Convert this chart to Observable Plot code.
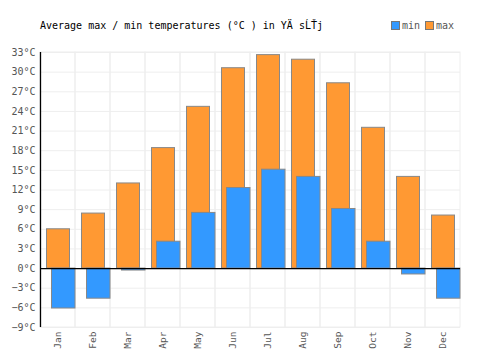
<!DOCTYPE html>
<html>
<head>
<meta charset="utf-8">
<script src="https://cdn.jsdelivr.net/npm/d3@7"></script>
<script src="https://cdn.jsdelivr.net/npm/@observablehq/plot@0.6"></script>
<style>
  html, body { margin: 0; padding: 0; background: #fff; }
  #wrap { position: relative; width: 500px; height: 350px; overflow: hidden; font-family: "DejaVu Sans Mono", monospace; }
  #title { position: absolute; left: 40px; top: 20px; font-size: 10px; color: #000; white-space: pre; }
  #legend { position: absolute; left: 391px; top: 20px; font-size: 10px; color: #555; display: flex; align-items: center; }
  .sw { display: inline-block; width: 7px; height: 7px; border: 1px solid #777; margin-right: 2px; }
  .item { display: flex; align-items: center; margin-right: 5px; }
</style>
</head>
<body>
<div id="wrap">
  <div id="title">Average max / min temperatures (°C ) in YÄ sĹŤj</div>
  <div id="legend"></div>
  <div id="chart"></div>
</div>
<script>
const months = ["Jan","Feb","Mar","Apr","May","Jun","Jul","Aug","Sep","Oct","Nov","Dec"];
const maxTemps = [6.0, 8.4, 13.0, 18.4, 24.7, 30.6, 32.6, 31.9, 28.3, 21.5, 14.0, 8.1];
const minTemps = [-6.1, -4.6, -0.3, 4.1, 8.5, 12.3, 15.1, 14.0, 9.1, 4.1, -0.9, -4.6];
const yTicks = [-9, -6, -3, 0, 3, 6, 9, 12, 15, 18, 21, 24, 27, 30, 33];
const seriesNames = ["min", "max"];
const seriesColors = ["#3399ff", "#ff9933"];

const maxData = months.map((m, i) => ({month: m, value: maxTemps[i]}));
const minData = months.map((m, i) => ({month: m, value: minTemps[i]}));

const fmt = d => (d < 0 ? "\u2212" : "") + Math.abs(d) + "°C";

const chart = Plot.plot({
  width: 500,
  height: 350,
  marginTop: 52,
  marginBottom: 23,
  marginLeft: 40,
  marginRight: 40,
  style: {fontFamily: "DejaVu Sans Mono, monospace", fontSize: "10px", color: "#555", background: "#fff"},
  x: {domain: months, padding: 0, label: null},
  y: {domain: [-9, 33], label: null},
  marks: [
    Plot.gridY(yTicks, {stroke: "#eee", strokeOpacity: 1}),
    Plot.barY(months, {x: d => d, y1: -9, y2: 33, fill: "none", stroke: "#eee", strokeWidth: 1}),
    Plot.barY(maxData, {x: "month", y: "value", fill: seriesColors[1], stroke: "#888", strokeWidth: 1, insetLeft: 6.5, insetRight: 5.5}),
    Plot.barY(minData, {x: "month", y: "value", fill: seriesColors[0], stroke: "#888", strokeWidth: 1, insetLeft: 11.5, insetRight: 0}),
    Plot.ruleY([0], {stroke: "#000", strokeWidth: 1.3}),
    Plot.ruleX(["Jan"], {y1: -9, y2: 33, dx: -17.5, stroke: "#000", strokeWidth: 1.3}),
    Plot.axisY(yTicks, {tickSize: 0, tickPadding: 5, tickFormat: fmt, fill: "#555"}),
    Plot.axisX({tickSize: 0, tickPadding: 4, tickRotate: -90, fill: "#555", fontSize: 9.5})
  ]
});
document.getElementById("chart").appendChild(chart);

const legend = document.getElementById("legend");
seriesNames.forEach((n, i) => {
  const it = document.createElement("span");
  it.className = "item";
  it.innerHTML = `<span class="sw" style="background:${seriesColors[i]}"></span>${n}`;
  legend.appendChild(it);
});
</script>
</body>
</html>
